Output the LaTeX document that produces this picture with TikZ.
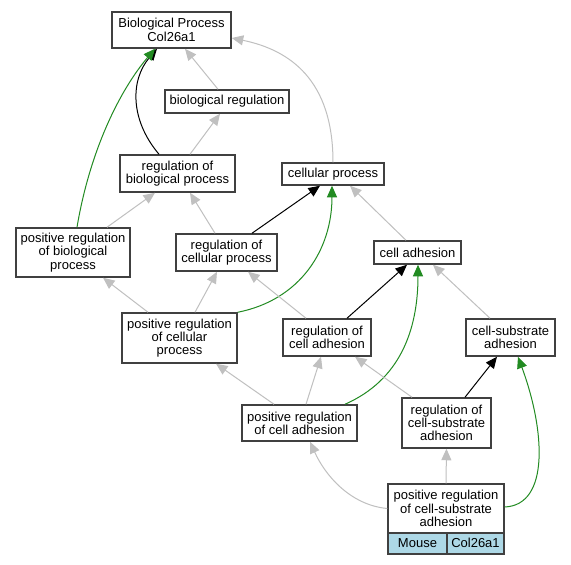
\documentclass[tikz,border=0pt]{standalone}
\usepackage{fontspec}
\setmainfont{Liberation Sans}
\usetikzlibrary{arrows.meta,calc}
\definecolor{edgegray}{HTML}{C0C0C0}
\definecolor{edgegreen}{HTML}{228B22}
\definecolor{boxline}{HTML}{404040}
\definecolor{tagblue}{HTML}{ADD8E6}
\begin{document}
\begin{tikzpicture}[x=1pt,y=-1pt,
  gobox/.style={draw=boxline,line width=1.5pt,fill=white,align=center,inner sep=0pt,
    font=\fontsize{13}{13.3}\selectfont},
  tagbox/.style={gobox,fill=tagblue,text height=9.5pt,text depth=2.5pt},
  isa/.style={draw=edgegray,line width=1pt,-{Triangle[length=11.5pt,width=10pt]}},
  reg/.style={draw=black,line width=1pt,-{Triangle[length=11.5pt,width=10pt]}},
  posreg/.style={draw=edgegreen,line width=1pt,-{Triangle[length=11.5pt,width=10pt]}}]
\fill[white] (0,0) rectangle (571,565);
\useasboundingbox (0,0) rectangle (571,565);

\node[gobox,minimum width=119pt,minimum height=36pt] (bp) at (171.5,30) {Biological Process\\Col26a1};
\node[gobox,minimum width=124pt,minimum height=23pt] (br) at (227,101.5) {biological regulation};
\node[gobox,minimum width=115pt,minimum height=37pt] (rbp) at (177.5,173.5) {regulation of\\biological process};
\node[gobox,minimum width=102pt,minimum height=22pt] (cp) at (333,174) {cellular process};
\node[gobox,minimum width=114pt,minimum height=49pt] (prbp) at (73,252.5) {positive regulation\\of biological\\process};
\node[gobox,minimum width=101pt,minimum height=37pt] (rcp) at (226.5,252.5) {regulation of\\cellular process};
\node[gobox,minimum width=87pt,minimum height=23pt] (ca) at (417.5,252.5) {cell adhesion};
\node[gobox,minimum width=115pt,minimum height=50pt] (prcp) at (179.5,338) {positive regulation\\of cellular\\process};
\node[gobox,minimum width=88pt,minimum height=37pt] (rca) at (327,337.5) {regulation of\\cell adhesion};
\node[gobox,minimum width=89pt,minimum height=37pt] (csa) at (510.5,337.5) {cell-substrate\\adhesion};
\node[gobox,minimum width=115pt,minimum height=36pt] (prca) at (299.5,423) {positive regulation\\of cell adhesion};
\node[gobox,minimum width=89pt,minimum height=50pt] (rcsa) at (446.5,423) {regulation of\\cell-substrate\\adhesion};
\node[gobox,minimum width=116pt,minimum height=49pt] (pcsa) at (446,508.5) {positive regulation\\of cell-substrate\\adhesion};
\node[tagbox,minimum width=59pt,minimum height=21pt] (mouse) at (417.5,543.5) {Mouse};
\node[tagbox,minimum width=57pt,minimum height=21pt] (col) at (475.5,543.5) {Col26a1};

% edges
\draw[isa] ($(br.north)+(-9,0)$) -- ($(bp.south)+(13.5,0)$);
\draw[isa] (cp.north) .. controls (333,80) and (290,50) .. ($(bp.east)+(0,8)$);
\draw[reg] ($(rbp.north)+(-18.5,0)$) .. controls (130,120) and (130,80) .. ($(bp.south)+(-14.5,0)$);
\draw[posreg] ($(prbp.north)+(4,0)$) .. controls (90,150) and (120,90) .. ($(bp.south)+(-16.5,0)$);
\draw[isa] ($(rbp.north)+(12.5,0)$) -- ($(br.south)+(-7,0)$);
\draw[isa] ($(prbp.north)+(34,0)$) -- ($(rbp.south)+(-22.5,0)$);
\draw[isa] ($(rcp.north)+(-11.5,0)$) -- ($(rbp.south)+(12.5,0)$);
\draw[reg] ($(rcp.north)+(25.5,0)$) -- ($(cp.south)+(-13,0)$);
\draw[posreg] (prcp.north east) .. controls (300,300) and (332,250) .. ($(cp.south)+(-1,0)$);
\draw[isa] ($(ca.north)+(-11.5,0)$) -- ($(cp.south)+(17,0)$);
\draw[isa] ($(prcp.north)+(15.5,0)$) -- ($(rcp.south)+(-9.5,0)$);
\draw[isa] ($(rca.north)+(-21,0)$) -- ($(rcp.south)+(21.5,0)$);
\draw[isa] ($(prcp.north)+(-31.5,0)$) -- ($(prbp.south)+(30,0)$);
\draw[reg] ($(rca.north)+(20,0)$) -- ($(ca.south)+(-10.5,0)$);
\draw[posreg] ($(prca.north)+(45.5,0)$) .. controls (400,380) and (418,330) .. ($(ca.south)+(0.5,0)$);
\draw[isa] ($(csa.north)+(-20.5,0)$) -- ($(ca.south)+(15.5,0)$);
\draw[isa] ($(prca.north)+(6.5,0)$) -- ($(rca.south)+(-6,0)$);
\draw[isa] ($(rcsa.north)+(-34.5,0)$) -- ($(rca.south)+(28,0)$);
\draw[isa] ($(prca.north)+(-25.5,0)$) -- ($(prcp.south)+(36.5,0)$);
\draw[reg] ($(rcsa.north)+(18.5,0)$) -- ($(csa.south)+(-13.5,0)$);
\draw[posreg] ($(pcsa.east)+(0,-1.5)$) .. controls (550,505) and (545,430) .. ($(csa.south)+(7.5,0)$);
\draw[isa] (pcsa.north) -- (rcsa.south);
\draw[isa] (pcsa.west) .. controls (350,505) and (325,475) .. ($(prca.south)+(10.5,0)$);
\end{tikzpicture}
\end{document}
